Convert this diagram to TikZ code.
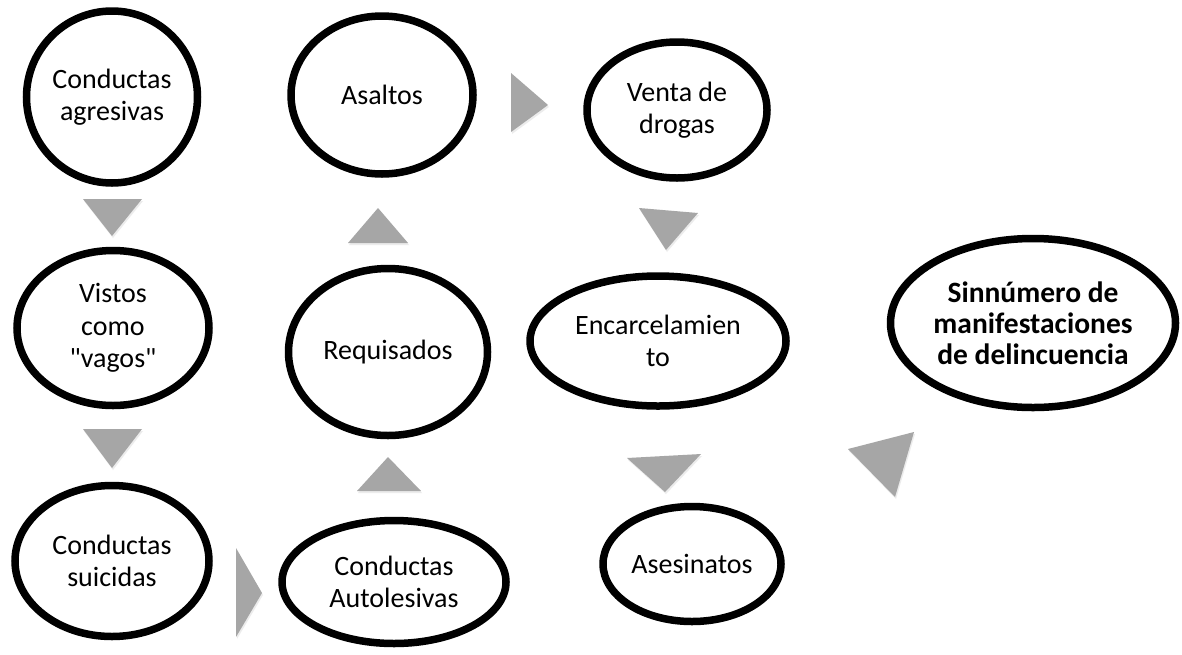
\documentclass[tikz,border=0pt]{standalone}
\usepackage{fontspec}
\setmainfont{Carlito}
\usetikzlibrary{shapes.geometric,shadows}
\definecolor{trigray}{HTML}{A6A6A6}
\tikzset{
  bubble/.style={ellipse, draw=black, line width=7.5pt, fill=white, inner sep=0pt,
    align=center, font=\fontsize{28}{32.5}\selectfont,
    drop shadow={shadow xshift=1.5pt, shadow yshift=-3pt, opacity=0.25}},
  tri/.style={fill=trigray,
    drop shadow={shadow xshift=1pt, shadow yshift=-2pt, opacity=0.15}}
}
\begin{document}
\begin{tikzpicture}[x=1pt,y=-1pt]
\useasboundingbox[fill=white] (0,0) rectangle (1182,654);
% triangles
\fill[tri] (83,199) -- (142,199) -- (112,236) -- cycle;
\fill[tri] (83,429) -- (142,429) -- (112,468) -- cycle;
\fill[tri] (236,548) -- (236,637) -- (262,593) -- cycle;
\fill[tri] (357,491) -- (421,491) -- (388,457) -- cycle;
\fill[tri] (348,243) -- (408,243) -- (378,208) -- cycle;
\fill[tri] (511,73) -- (511,132) -- (548,105) -- cycle;
\fill[tri] (639,208) -- (698,213) -- (666,250) -- cycle;
\fill[tri] (627,458) -- (701,454) -- (665,492) -- cycle;
\fill[tri] (848,449) -- (914,432) -- (895,497) -- cycle;
% nodes
\node[bubble, minimum width=171pt, minimum height=172pt] (agr) at (112,97) {Conductas\\agresivas};
\node[bubble, minimum width=182pt, minimum height=158pt] (asa) at (382,95) {Asaltos};
\node[bubble, minimum width=180pt, minimum height=136pt] (ven) at (677,110) {Venta de\\drogas};
\node[bubble, minimum width=192pt, minimum height=155pt] (vis) at (113,328) {Vistos\\como\\\textquotedbl vagos\textquotedbl};
\node[bubble, minimum width=199pt, minimum height=167pt] (req) at (388,352) {Requisados};
\node[bubble, minimum width=256pt, minimum height=130pt] (enc) at (658,341) {Encarcelamien\\to};
\node[bubble, minimum width=285pt, minimum height=169pt, font=\bfseries\fontsize{29.5}{31}\selectfont] (sin) at (1033,323) {Sinnúmero de\\manifestaciones\\de delincuencia};
\node[bubble, minimum width=194pt, minimum height=151pt] (sui) at (112,561) {Conductas\\suicidas};
\node[bubble, minimum width=224pt, minimum height=123pt] (aut) at (394,582) {Conductas\\Autolesivas};
\node[bubble, minimum width=178pt, minimum height=115pt] (ase) at (692,564) {Asesinatos};
\end{tikzpicture}
\end{document}
